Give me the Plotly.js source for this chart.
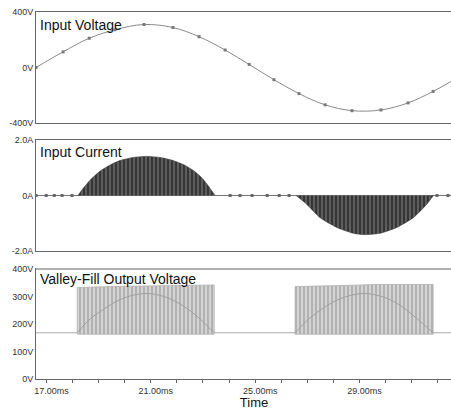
<!DOCTYPE html>
<html><head><meta charset="utf-8">
<script src="https://cdn.plot.ly/plotly-3.0.1.min.js"></script>
<style>html,body{margin:0;padding:0;overflow:hidden;background:#fff}#chart{width:476px;height:410px}</style>
</head><body><div id="chart"></div>
<script>
// ---- data (time in ms) ----
const vinTime  = [16.6, 17.64, 18.64, 19.63, 20.74, 21.85, 22.85, 23.85, 24.77, 25.72, 26.68, 27.68, 28.71, 29.82, 30.86, 31.82, 32.82, 33.31];
const vinVolts = [0, 113, 211, 272, 310, 288, 222, 126, 22, -88, -188, -269, -311, -306, -255, -172, -65, -5];

const iBaseTime = [16.6, 16.99, 17.30, 17.60, 17.98, 24.04, 24.42, 24.88, 25.46, 25.92, 26.30, 31.97, 32.39, 33.31];
const iBaseAmps = [0, 0, 0, 0, 0, 0, 0, 0, 0, 0, 0, 0, 0, 0];

const iPosTime = [18.21, 18.36, 18.67, 19.06, 19.44, 19.82, 20.32, 20.82, 21.36, 21.82, 22.28, 22.66, 22.97, 23.24, 23.46];
const iPosAmps = [0, 0.2, 0.55, 0.88, 1.1, 1.26, 1.37, 1.41, 1.37, 1.27, 1.1, 0.88, 0.62, 0.3, 0];
const iNegTime = [26.57, 26.98, 27.49, 28.13, 28.76, 29.15, 29.79, 30.43, 31.06, 31.57, 31.83];
const iNegAmps = [0, -0.32, -0.8, -1.15, -1.36, -1.41, -1.36, -1.15, -0.8, -0.32, 0];

const voutBaseTime  = [16.6, 33.31];
const voutBaseVolts = [168, 168];
const voutBottom = 163;
const vout1Time = [18.18, 19.44, 20.97, 23.43];
const vout1Top  = [333, 336, 339, 342];
const vout2Time = [26.53, 28.75, 29.67, 31.82];
const vout2Top  = [336, 341, 344, 344];

const rect1Time  = [18.18, 18.68, 19.06, 19.64, 20.21, 20.82, 21.36, 21.93, 22.51, 22.89, 23.43];
const rect1Volts = [168, 219, 245, 280, 302, 311, 304, 283, 248, 218, 168];
const rect2Time  = [26.53, 27.10, 27.68, 28.26, 29.14, 29.98, 30.55, 31.13, 31.82];
const rect2Volts = [168, 222, 262, 292, 311, 296, 268, 225, 168];

const xTickVals = [17, 21, 25, 29];
const xTickText = ['17.00ms', '21.00ms', '25.00ms', '29.00ms'];
const vinTickVals = [-400, 0, 400];
const vinTickText = ['-400V', '0V', '400V'];
const iTickVals = [-2, 0, 2];
const iTickText = ['-2.0A', '0A', '2.0A'];
const voutTickVals = [0, 100, 200, 300, 400];
const voutTickText = ['0V', '100V', '200V', '300V', '400V'];
const panelTitles = ['Input Voltage', 'Input Current', 'Valley-Fill Output Voltage'];
const xTitle = 'Time';

// ---- helpers ----
function band(times, tops, bottom) {
  const n = times.length;
  return {
    x: [times[0]].concat(times, [times[n - 1], times[0]]),
    y: [bottom].concat(tops, [bottom, bottom])
  };
}
const b1 = band(vout1Time, vout1Top, voutBottom);
const b2 = band(vout2Time, vout2Top, voutBottom);

const FONT = 'Liberation Sans, Arial, sans-serif';
const stripeOut = {shape: '|', size: 4, solidity: 0.3, fgcolor: '#ececec', bgcolor: '#b2b2b2', fillmode: 'replace'};
const stripeCur = {shape: '|', size: 4, solidity: 0.22, fgcolor: '#8e8e8e', bgcolor: '#363636', fillmode: 'replace'};

const traces = [
  // panel 1: input voltage
  {x: vinTime, y: vinVolts, xaxis: 'x3', yaxis: 'y3', mode: 'lines+markers',
   line: {color: '#8a8a8a', width: 1, shape: 'spline', smoothing: 1},
   marker: {symbol: 'square', size: 3, color: '#7a7a7a'}},
  // panel 2: input current
  {x: iBaseTime, y: iBaseAmps, xaxis: 'x2', yaxis: 'y2', mode: 'lines+markers',
   line: {color: '#777', width: 1}, marker: {symbol: 'square', size: 3, color: '#666'}},
  {x: iPosTime, y: iPosAmps, xaxis: 'x2', yaxis: 'y2', mode: 'lines', fill: 'toself',
   fillcolor: '#363636', fillpattern: stripeCur,
   line: {color: '#363636', width: 0.6, shape: 'spline', smoothing: 0.6}},
  {x: iNegTime, y: iNegAmps, xaxis: 'x2', yaxis: 'y2', mode: 'lines', fill: 'toself',
   fillcolor: '#363636', fillpattern: stripeCur,
   line: {color: '#363636', width: 0.6, shape: 'spline', smoothing: 0.6}},
  // panel 3: output voltage
  {x: voutBaseTime, y: voutBaseVolts, xaxis: 'x', yaxis: 'y', mode: 'lines',
   line: {color: '#aaaaaa', width: 1}},
  {x: b1.x, y: b1.y, xaxis: 'x', yaxis: 'y', mode: 'lines', fill: 'toself',
   fillcolor: '#b2b2b2', fillpattern: stripeOut, line: {color: '#b0b0b0', width: 0.8}},
  {x: b2.x, y: b2.y, xaxis: 'x', yaxis: 'y', mode: 'lines', fill: 'toself',
   fillcolor: '#b2b2b2', fillpattern: stripeOut, line: {color: '#b0b0b0', width: 0.8}},
  {x: rect1Time, y: rect1Volts, xaxis: 'x', yaxis: 'y', mode: 'lines',
   line: {color: '#a0a0a0', width: 1, shape: 'spline'}},
  {x: rect2Time, y: rect2Volts, xaxis: 'x', yaxis: 'y', mode: 'lines',
   line: {color: '#a0a0a0', width: 1, shape: 'spline'}}
];

const tickFont = {family: FONT, size: 9, color: '#333'};
const frameX = {showline: true, linecolor: '#666', linewidth: 1, mirror: true, showgrid: false, zeroline: false};
const frameY = {showline: true, linecolor: '#666', linewidth: 1, mirror: false, showgrid: false, zeroline: false,
                ticks: '', tickfont: tickFont, fixedrange: true};

const layout = {
  width: 476, height: 410,
  margin: {l: 36, r: 4, t: 12, b: 31},
  paper_bgcolor: '#fff', plot_bgcolor: '#fff',
  showlegend: false, hovermode: false,
  font: {family: FONT},
  xaxis: Object.assign({}, frameX, {
    domain: [0, 1], anchor: 'y', range: [16.6, 33.31],
    ticks: 'outside', ticklen: 3, tickcolor: '#666',
    tickmode: 'array', tickvals: xTickVals, ticktext: xTickText, tickfont: tickFont,
    ticklabelshift: 5,
    minor: {tickmode: 'linear', tick0: 17, dtick: 1, ticks: 'outside', ticklen: 3, tickcolor: '#666', showgrid: false},
    title: {text: xTitle, font: {family: FONT, size: 13, color: '#111'}, standoff: 6}
  }),
  xaxis2: Object.assign({}, frameX, {anchor: 'y2', matches: 'x', ticks: '', showticklabels: false}),
  xaxis3: Object.assign({}, frameX, {anchor: 'y3', matches: 'x', ticks: '', showticklabels: false}),
  yaxis: Object.assign({}, frameY, {domain: [0, 0.2997], anchor: 'x', range: [0, 400],
    tickmode: 'array', tickvals: voutTickVals, ticktext: voutTickText}),
  yaxis2: Object.assign({}, frameY, {domain: [0.3488, 0.6512], anchor: 'x2', range: [-2, 2],
    tickmode: 'array', tickvals: iTickVals, ticktext: iTickText}),
  yaxis3: Object.assign({}, frameY, {domain: [0.6975, 1], anchor: 'x3', range: [-400, 400],
    tickmode: 'array', tickvals: vinTickVals, ticktext: vinTickText}),
  shapes: [
    {type: 'line', xref: 'x domain', yref: 'y domain', x0: 0, x1: 1, y0: 1, y1: 1,
     line: {color: '#b0b0b0', width: 2}, layer: 'above'}
  ],
  annotations: [
    {xref: 'x3 domain', yref: 'y3 domain', x: 0.005, y: 0.885, xanchor: 'left', yanchor: 'middle',
     text: panelTitles[0], showarrow: false, font: {family: FONT, size: 14, color: '#111'}},
    {xref: 'x2 domain', yref: 'y2 domain', x: 0.005, y: 0.89, xanchor: 'left', yanchor: 'middle',
     text: panelTitles[1], showarrow: false, font: {family: FONT, size: 14, color: '#111'}},
    {xref: 'x domain', yref: 'y domain', x: 0.005, y: 0.905, xanchor: 'left', yanchor: 'middle',
     text: panelTitles[2], showarrow: false, font: {family: FONT, size: 14, color: '#111'}}
  ]
};

Plotly.newPlot('chart', traces, layout, {staticPlot: true, displayModeBar: false});
</script>
</body></html>
